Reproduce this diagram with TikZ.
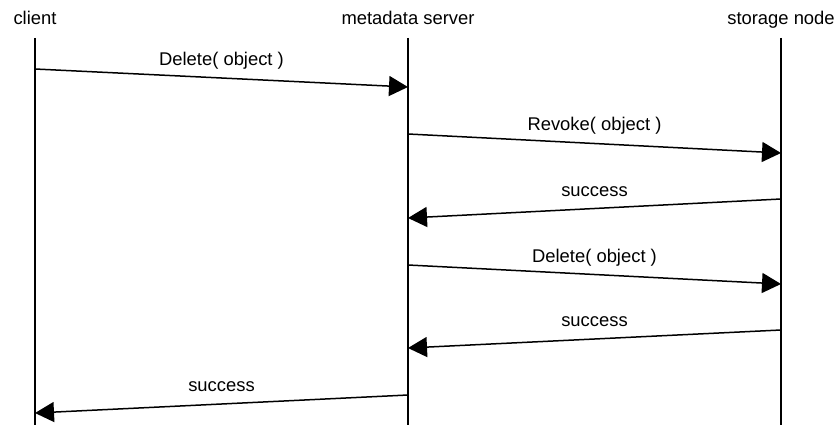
\documentclass[tikz,border=0pt]{standalone}
\usepackage{fontspec}
\setmainfont{Liberation Sans}
\usetikzlibrary{positioning,arrows.meta}
\tikzset{%
actor/.style={font=\fontsize{18.4}{22}\selectfont,anchor=base,inner sep=0},
lifeline/.style={draw,line width=1.6pt},
message/.style={draw,line width=1.5pt,-{Triangle[length=19pt,width=20pt]}},
msglabel/.style={font=\fontsize{18.4}{22}\selectfont,anchor=base,inner sep=0,yshift=12.5pt}
}

\begin{document}
\begin{tikzpicture}[x=1pt,y=-1pt]

    \useasboundingbox (0,0) rectangle (837,425);

    % participants
    \node[actor] (client) at (35,25) {client};
    \node[actor] (mds) at (408,25) {metadata server};
    \node[actor] (storage) at (781,25) {storage node};

    \coordinate (client-top) at (35,38);
    \coordinate (client-bot) at (35,425);
    \coordinate (mds-top) at (408,38);
    \coordinate (mds-bot) at (408,425);
    \coordinate (storage-top) at (781,38);
    \coordinate (storage-bot) at (781,425);

    \path[lifeline] (client-top) -- (client-bot);
    \path[lifeline] (mds-top) -- (mds-bot);
    \path[lifeline] (storage-top) -- (storage-bot);

    % message ends
    \coordinate (c1) at (35,69);   \coordinate (m1) at (408,87);
    \coordinate (m2) at (408,134); \coordinate (s2) at (781,153);
    \coordinate (s3) at (781,199); \coordinate (m3) at (408,218);
    \coordinate (m4) at (408,265); \coordinate (s4) at (781,284);
    \coordinate (s5) at (781,330); \coordinate (m5) at (408,348);
    \coordinate (m6) at (408,395); \coordinate (c6) at (35,413);

    \path[message] (c1) -- node[msglabel]{Delete( object )} (m1);
    \path[message] (m2) -- node[msglabel]{Revoke( object )} (s2);
    \path[message] (s3) -- node[msglabel]{success} (m3);
    \path[message] (m4) -- node[msglabel]{Delete( object )} (s4);
    \path[message] (s5) -- node[msglabel]{success} (m5);
    \path[message] (m6) -- node[msglabel]{success} (c6);

\end{tikzpicture}
\end{document}
